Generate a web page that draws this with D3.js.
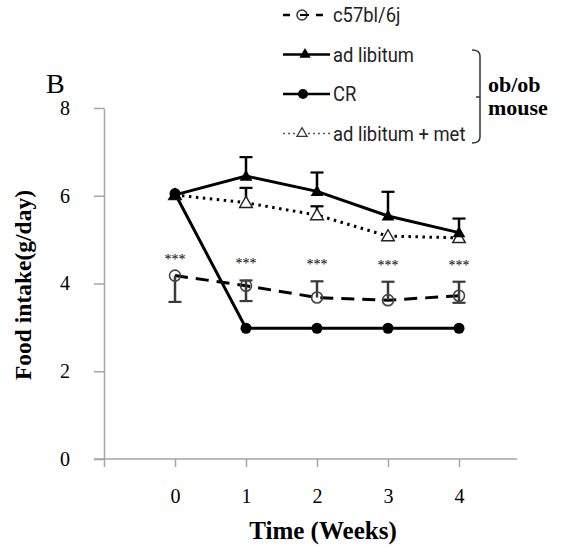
<!DOCTYPE html>
<html>
<head>
<meta charset="utf-8">
<script src="https://cdn.jsdelivr.net/npm/d3@7"></script>
<style>
  body { margin: 0; background: #fff; }
</style>
</head>
<body>
<div id="chart"></div>
<script>
// data
const weeks = [0, 1, 2, 3, 4]
const c57 = [4.18, 3.95, 3.68, 3.62, 3.72]
const c57Up = [0, 0.12, 0.37, 0.42, 0.32]
const c57Down = [0.6, 0.35, 0, 0, 0.16]
const adlib = [6.02, 6.45, 6.1, 5.54, 5.16]
const adlibUp = [0, 0.43, 0.43, 0.55, 0.32]
const cr = [6.05, 2.98, 2.98, 2.98, 2.98]
const met = [6.02, 5.84, 5.56, 5.08, 5.04]
const metUp = [0, 0.34, 0.2, 0, 0]
const yTicks = [0, 2, 4, 6, 8]
const xTicks = [-1, 0, 1, 2, 3, 4]
const sigLabel = '***'

const W = 565, H = 549

const svg = d3.select('#chart').append('svg')
  .attr('width', W).attr('height', H)

const x = d3.scaleLinear().domain([-1, 4]).range([104, 459])
const y = d3.scaleLinear().domain([0, 8]).range([459, 108])

const axisColor = '#a6a6a6'
const serif = '"Liberation Serif", "Times New Roman", serif'

// y axis
const yAxis = svg.append('g')
  .attr('transform', 'translate(104,0)')
  .call(d3.axisLeft(y).tickValues(yTicks).tickSize(10).tickSizeOuter(0).tickPadding(24))
yAxis.selectAll('path, line').attr('stroke', axisColor).attr('stroke-width', 1.5)
yAxis.selectAll('text').attr('font-family', serif).attr('font-size', 20).attr('fill', '#000')

// x axis
const xAxis = svg.append('g')
  .attr('transform', 'translate(0,459)')
  .call(d3.axisBottom(x).tickValues(xTicks).tickSize(8).tickPadding(22)
    .tickFormat(d => d < 0 ? '' : d))
xAxis.select('.domain').remove()
xAxis.selectAll('line').attr('stroke', axisColor).attr('stroke-width', 1.5)
xAxis.selectAll('text').attr('font-family', serif).attr('font-size', 20).attr('fill', '#000')
xAxis.append('line')
  .attr('x1', x(-1) - 10).attr('x2', x(4.82))
  .attr('stroke', axisColor).attr('stroke-width', 1.5)

// titles
svg.append('text')
  .attr('x', 323).attr('y', 539)
  .attr('text-anchor', 'middle')
  .attr('font-family', serif).attr('font-weight', 'bold').attr('font-size', 25)
  .text('Time (Weeks)')

svg.append('text')
  .attr('transform', 'translate(31,285) rotate(-90)')
  .attr('text-anchor', 'middle')
  .attr('font-family', serif).attr('font-weight', 'bold').attr('font-size', 23.5)
  .text('Food intake(g/day)')

svg.append('text')
  .attr('x', 46).attr('y', 93)
  .attr('font-family', serif).attr('font-size', 28)
  .text('B')

// lines
const line = vals => d3.line().x((d, i) => x(weeks[i])).y(d => y(d))(vals)

svg.append('path').attr('d', line(c57))
  .attr('fill', 'none').attr('stroke', '#000').attr('stroke-width', 3)
  .attr('stroke-dasharray', '13,8')
svg.append('path').attr('d', line(met))
  .attr('fill', 'none').attr('stroke', '#000').attr('stroke-width', 3)
  .attr('stroke-dasharray', '2.5,4.5')
svg.append('path').attr('d', line(cr))
  .attr('fill', 'none').attr('stroke', '#000').attr('stroke-width', 3)
svg.append('path').attr('d', line(adlib))
  .attr('fill', 'none').attr('stroke', '#000').attr('stroke-width', 3)

// error bars
function errBars(vals, up, down, color) {
  weeks.forEach((w, i) => {
    const cx = x(w)
    const ends = []
    if (up[i] > 0) ends.push(vals[i] + up[i])
    if (down && down[i] > 0) ends.push(vals[i] - down[i])
    ends.forEach(e => {
      svg.append('line')
        .attr('x1', cx).attr('x2', cx).attr('y1', y(vals[i])).attr('y2', y(e))
        .attr('stroke', color).attr('stroke-width', 2.5)
      svg.append('line')
        .attr('x1', cx - 6.5).attr('x2', cx + 6.5).attr('y1', y(e)).attr('y2', y(e))
        .attr('stroke', color).attr('stroke-width', 2.2)
    })
  })
}
errBars(c57, c57Up, c57Down, '#3a3a3a')
errBars(met, metUp, null, '#000')
errBars(adlib, adlibUp, null, '#000')

// markers
const tri = d3.symbol().type(d3.symbolTriangle).size(70)

svg.selectAll('.c57pt').data(c57).join('circle')
  .attr('class', 'c57pt')
  .attr('cx', (d, i) => x(weeks[i])).attr('cy', d => y(d)).attr('r', 5.5)
  .attr('fill', 'none').attr('stroke', '#444').attr('stroke-width', 1.6)

svg.selectAll('.metpt').data(met).join('path')
  .attr('class', 'metpt')
  .attr('d', tri)
  .attr('transform', (d, i) => `translate(${x(weeks[i])},${y(d) + 1})`)
  .attr('fill', '#fff').attr('stroke', '#222').attr('stroke-width', 1.4)

svg.selectAll('.crpt').data(cr).join('circle')
  .attr('class', 'crpt')
  .attr('cx', (d, i) => x(weeks[i])).attr('cy', d => y(d)).attr('r', 5.5)
  .attr('fill', '#000')

svg.selectAll('.adpt').data(adlib).join('path')
  .attr('class', 'adpt')
  .attr('d', tri)
  .attr('transform', (d, i) => `translate(${x(weeks[i])},${y(d) + 1})`)
  .attr('fill', '#000')

// significance stars
svg.selectAll('.sig').data(c57).join('text')
  .attr('class', 'sig')
  .attr('x', (d, i) => x(weeks[i])).attr('y', (d, i) => y(d + c57Up[i]) - 12)
  .attr('text-anchor', 'middle')
  .attr('font-family', serif).attr('font-size', 14)
  .text(sigLabel)

// legend
const legendItems = [
  { name: 'c57bl/6j', dash: '7,26', marker: 'open-circle' },
  { name: 'ad libitum', dash: null, marker: 'filled-triangle' },
  { name: 'CR', dash: null, marker: 'filled-circle' },
  { name: 'ad libitum + met', dash: '2,3', marker: 'open-triangle' }
]
const legend = svg.append('g')
legendItems.forEach((it, i) => {
  const g = legend.append('g').attr('transform', `translate(283,${15 + i * 39.5})`)
  g.append('line').attr('x1', 0).attr('x2', 47)
    .attr('stroke', it.marker === 'open-triangle' ? '#555' : '#000')
    .attr('stroke-width', it.marker === 'open-triangle' ? 1.5 : 2.5)
    .attr('stroke-dasharray', it.dash)
  if (it.marker === 'open-circle') {
    g.append('circle').attr('cx', 19).attr('r', 5).attr('fill', 'none')
      .attr('stroke', '#333').attr('stroke-width', 1.5)
    g.append('line').attr('x1', 17).attr('x2', 26).attr('stroke', '#000').attr('stroke-width', 2)
  } else if (it.marker === 'filled-circle') {
    g.append('circle').attr('cx', 20).attr('r', 5).attr('fill', '#000')
  } else if (it.marker === 'filled-triangle') {
    g.append('path').attr('d', d3.symbol().type(d3.symbolTriangle).size(55)())
      .attr('transform', 'translate(22,0)').attr('fill', '#000')
  } else {
    g.append('path').attr('d', d3.symbol().type(d3.symbolTriangle).size(45)())
      .attr('transform', 'translate(19,0)').attr('fill', '#fff')
      .attr('stroke', '#333').attr('stroke-width', 1.2)
  }
  g.append('text')
    .attr('transform', 'translate(50,0) scale(0.92,1)')
    .attr('dy', '0.35em')
    .attr('font-family', 'Roboto, sans-serif').attr('font-size', 20).attr('fill', '#222')
    .text(it.name)
})

// bracket for ob/ob group
svg.append('path')
  .attr('d', 'M472,50 Q480,50 480,56 L480,137 Q480,143 472,143 M480,97 L476,97')
  .attr('fill', 'none').attr('stroke', '#333').attr('stroke-width', 1.5)
svg.append('text').attr('x', 488).attr('y', 92)
  .attr('font-family', serif).attr('font-weight', 'bold').attr('font-size', 22)
  .text('ob/ob')
svg.append('text').attr('x', 488).attr('y', 115)
  .attr('font-family', serif).attr('font-weight', 'bold').attr('font-size', 22)
  .text('mouse')
</script>
</body>
</html>
